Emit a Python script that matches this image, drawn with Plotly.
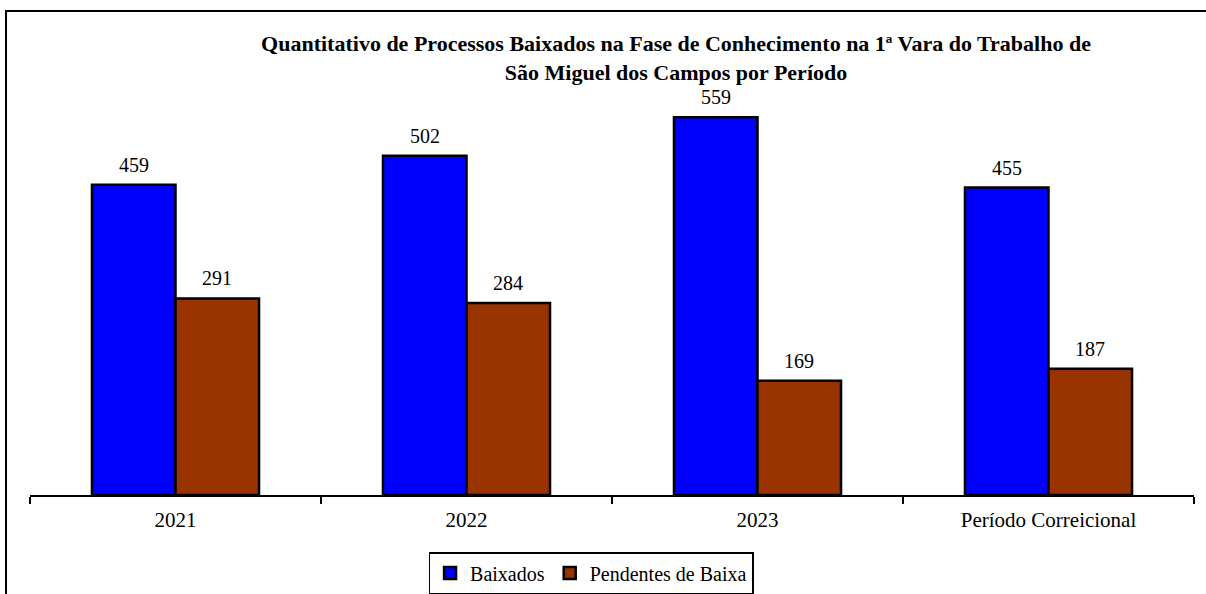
import plotly.graph_objects as go

categories = ["2021", "2022", "2023", "Período Correicional"]
baixados = [459, 502, 559, 455]
pendentes = [291, 284, 169, 187]
series_names = ["Baixados", "Pendentes de Baixa"]
colors = ["#0000FF", "#993300"]

FONT = "Liberation Serif, Times New Roman, serif"
bargap = 0.426
half = (1 - bargap) / 4  # centre offset of each bar within a category (index units)

fig = go.Figure()
for name, vals, col in zip(series_names, [baixados, pendentes], colors):
    fig.add_trace(go.Bar(
        x=categories, y=vals, name=name,
        marker=dict(color=col, line=dict(color="black", width=2.5)),
    ))

annotations = []
for vals, off in [(baixados, -half), (pendentes, half)]:
    for i, v in enumerate(vals):
        annotations.append(dict(
            x=i + off, y=v, xref="x", yref="y", text=str(v), showarrow=False,
            yshift=20, yanchor="middle", font=dict(family=FONT, size=20, color="black"),
        ))

fig.update_layout(
    width=1206, height=594,
    paper_bgcolor="white", plot_bgcolor="white",
    margin=dict(l=30, r=12, t=95, b=99, autoexpand=False),
    barmode="group", bargap=bargap, bargroupgap=0,
    font=dict(family=FONT, size=20, color="black"),
    title=dict(
        text="<b>Quantitativo de Processos Baixados na Fase de Conhecimento na 1ª Vara do Trabalho de<br>São Miguel dos Campos por Período</b>",
        x=0.555, xref="paper", xanchor="center", y=1 - 51 / 594, yref="container", yanchor="middle",
        font=dict(family=FONT, size=22, color="black"),
    ),
    xaxis=dict(
        showline=True, linecolor="black", linewidth=1.5, automargin=False,
        ticks="outside", tickson="boundaries", ticklen=7, tickcolor="black", tickwidth=1.5,
        ticklabelstandoff=5,
        tickfont=dict(family=FONT, size=21), showgrid=False,
    ),
    yaxis=dict(range=[0, 592], visible=False, showgrid=False, automargin=False),
    legend=dict(
        orientation="h", x=0.482, y=-0.195, xanchor="center", yanchor="middle",
        bordercolor="black", borderwidth=1.5, font=dict(family=FONT, size=20),
        itemwidth=30, traceorder="normal",
    ),
    annotations=annotations,
    shapes=[dict(type="rect", xref="paper", yref="paper",
                 x0=-0.0206, x1=1.2, y0=-0.6, y1=1.21,
                 line=dict(color="black", width=2), fillcolor="rgba(0,0,0,0)", layer="below")],
)

fig.write_html("out.html", config={"displayModeBar": False},
               post_script="document.body.style.margin='0';document.body.style.overflow='hidden';")
